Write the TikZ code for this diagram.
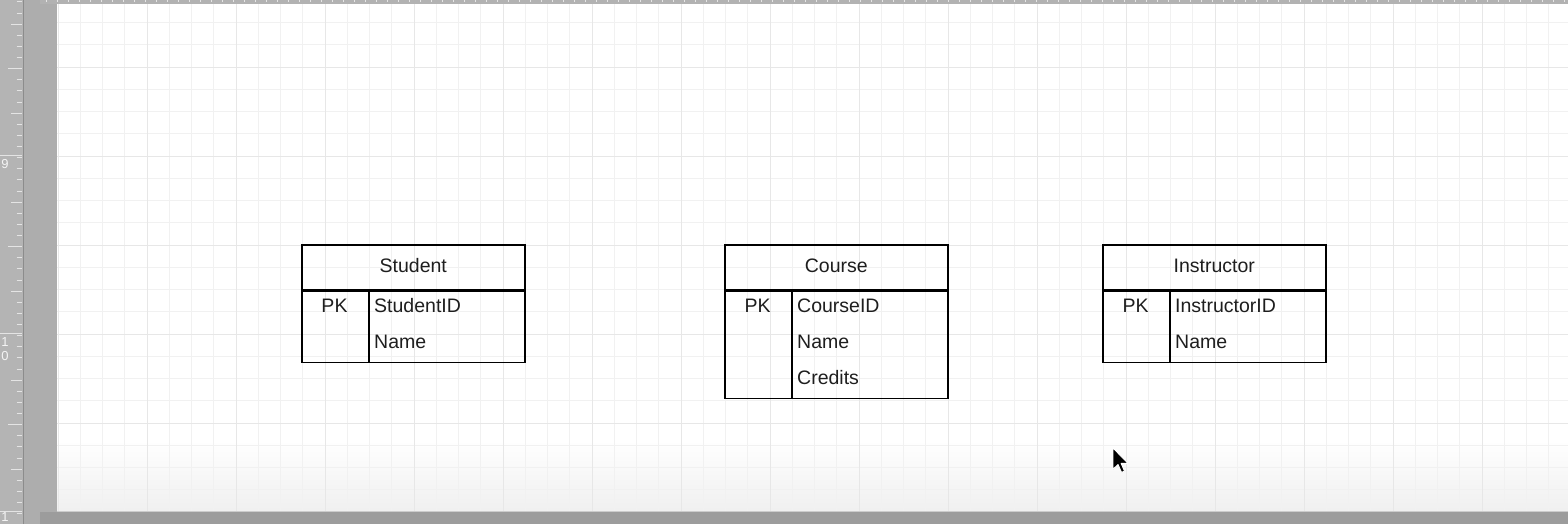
\documentclass[tikz,border=0pt]{standalone}
\usepackage{fontspec}
\setmainfont{Liberation Sans}
\definecolor{rulerbg}{HTML}{B4B4B4}
\definecolor{panelbg}{HTML}{ADADAD}
\definecolor{rulertick}{HTML}{E4E4E4}
\definecolor{bandbg}{HTML}{9C9C9C}
\definecolor{gridminor}{HTML}{F1F1F1}
\definecolor{gridmajor}{HTML}{E7E7E7}
\definecolor{inktext}{HTML}{1E1E1E}
\tikzset{
  tbl/.style={draw=black, line width=1.6pt, rectangle, inner sep=0pt, anchor=north west, minimum width=223pt},
  hdr/.style={tbl, minimum height=45pt, font=\fontsize{19.5}{22}\selectfont, text=inktext, text height=14pt, text depth=4pt},
  pkcol/.style={draw=black, line width=1.6pt, rectangle, inner sep=0pt, anchor=north west, minimum width=67pt},
  txt/.style={inner sep=0pt, font=\fontsize{19.5}{22}\selectfont, text=inktext, text height=14pt, text depth=0pt},
  fld/.style={txt, anchor=west},
  pk/.style={txt, anchor=center},
  rlab/.style={inner sep=0pt, font=\fontsize{13}{13}\selectfont, text=white!92!gray},
}
\begin{document}
\begin{tikzpicture}[x=1pt, y=-1pt]
\useasboundingbox (0,0) rectangle (1568,524);
% --- window chrome ---
\fill[panelbg] (0,0) rectangle (1568,524);
\fill[rulerbg] (0,0) rectangle (23,524);
\draw[black!45, line width=0.8pt] (23,0) -- (23,524);
\fill[black!30] (40,0) rectangle (1568,4);
\foreach \x in {46,57,...,1568} \draw[white!80!gray, line width=0.6pt] (\x,0) -- (\x,2.5);
\fill[bandbg] (40,512) rectangle (1568,524);
% --- ruler ticks ---
\foreach \k in {0,...,47} {
  \pgfmathsetmacro{\ty}{1.75+11.125*\k}
  \draw[rulertick, line width=0.7pt] (16.5,\ty) -- (22,\ty);
}
\foreach \ty in {24,113,202,291,380,469} \draw[rulertick, line width=0.7pt] (11,\ty) -- (22,\ty);
\foreach \ty in {68.5,246.5,424.5} \draw[rulertick, line width=0.7pt] (8,\ty) -- (22,\ty);
\foreach \ty in {155.5,333.5,511.5} \draw[rulertick, line width=0.8pt] (0,\ty) -- (22,\ty);
\node[rlab] (r9) at (5,164) {9};
\node[rlab] (r1a) at (5,342) {1};
\node[rlab] (r0) at (5,356) {0};
\node[rlab] (r1b) at (5,517.5) {1};
% --- canvas ---
\fill[white] (57,4) rectangle (1568,511);
\shade[top color=white, bottom color=black!6] (57,440) rectangle (1568,511);
\begin{scope}
\clip (57,4) rectangle (1568,511);
\foreach \i in {0,...,68} {
  \pgfmathsetmacro{\gx}{58+22.25*\i}
  \draw[gridminor, line width=0.7pt] (\gx,4) -- (\gx,511);
}
\foreach \j in {0,...,23} {
  \pgfmathsetmacro{\gy}{0.25+22.25*\j}
  \draw[gridminor, line width=0.7pt] (57,\gy) -- (1568,\gy);
}
\foreach \i in {0,...,17} {
  \pgfmathsetmacro{\gx}{58+89*\i}
  \draw[gridmajor, line width=0.9pt] (\gx,4) -- (\gx,511);
}
\foreach \j in {0,...,5} {
  \pgfmathsetmacro{\gy}{67+89*\j}
  \draw[gridmajor, line width=0.9pt] (57,\gy) -- (1568,\gy);
}
\end{scope}
\draw[black!20, line width=1pt] (57,511.5) -- (1568,511.5);
% --- Student ---
\node[hdr] (stu-h) at (301,244) {Student};
\node[tbl, minimum height=71pt] (stu-b) at (stu-h.south west) {};
\node[pkcol, minimum height=71pt] (stu-pk) at (stu-b.north west) {};
\node[pk] (stu-pkl) at (334.5,305) {PK};
\node[fld] (stu-f1) at (374,305) {StudentID};
\node[fld] (stu-f2) at (374,341) {Name};
% --- Course ---
\node[hdr] (crs-h) at (724,244) {Course};
\node[tbl, minimum height=107pt] (crs-b) at (crs-h.south west) {};
\node[pkcol, minimum height=107pt] (crs-pk) at (crs-b.north west) {};
\node[pk] (crs-pkl) at (757.5,305) {PK};
\node[fld] (crs-f1) at (797,305) {CourseID};
\node[fld] (crs-f2) at (797,341) {Name};
\node[fld] (crs-f3) at (797,377) {Credits};
% --- Instructor ---
\node[hdr] (ins-h) at (1102,244) {Instructor};
\node[tbl, minimum height=71pt] (ins-b) at (ins-h.south west) {};
\node[pkcol, minimum height=71pt] (ins-pk) at (ins-b.north west) {};
\node[pk] (ins-pkl) at (1135.5,305) {PK};
\node[fld] (ins-f1) at (1175,305) {InstructorID};
\node[fld] (ins-f2) at (1175,341) {Name};
% --- mouse cursor ---
\begin{scope}[shift={(1113,448)}, scale=1.25]
\filldraw[fill=black, draw=white, line width=0.9pt, line join=round]
  (0,0) -- (0,17) -- (4,13.2) -- (6.8,19.5) -- (9.2,18.5) -- (6.5,12.3) -- (12,12.3) -- cycle;
\end{scope}
\end{tikzpicture}
\end{document}
